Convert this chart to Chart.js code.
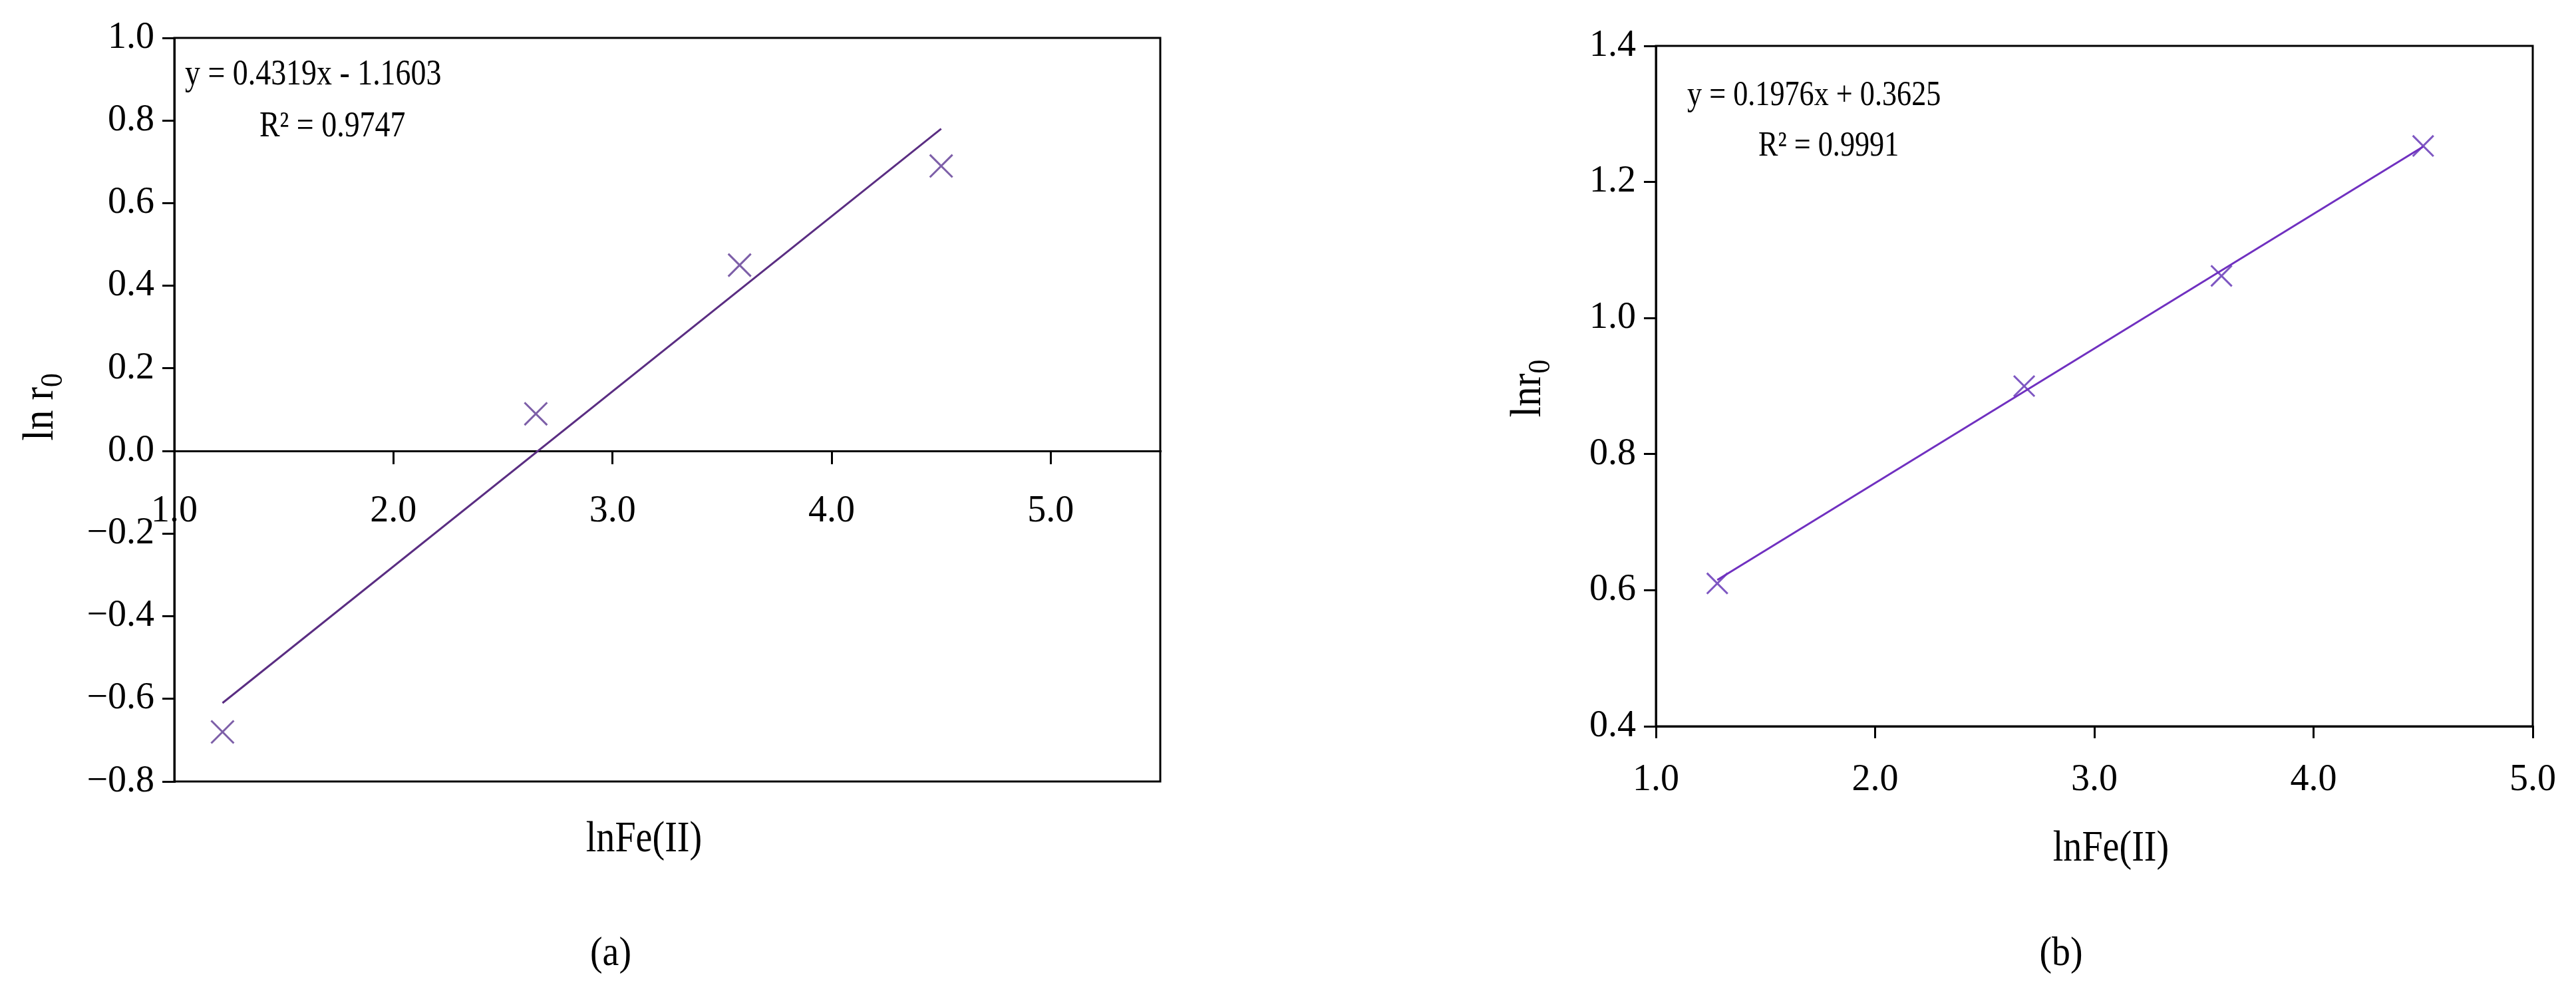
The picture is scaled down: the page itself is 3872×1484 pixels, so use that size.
<!DOCTYPE html>
<html><head><meta charset="utf-8">
<script src="https://cdn.jsdelivr.net/npm/chart.js@4/dist/chart.umd.min.js"></script>
<style>
html,body{margin:0;padding:0;background:#fff;width:3872px;height:1484px;overflow:hidden}
#wa{position:absolute;left:0;top:0;width:1936px;height:1484px}
#wb{position:absolute;left:1936px;top:0;width:1936px;height:1484px}
</style></head><body>
<div id="wa"><canvas id="ca"></canvas></div>
<div id="wb"><canvas id="cb"></canvas></div>
<script>
// Panel (a)
const aX = [1.22, 2.65, 3.58, 4.50];
const aY = [-0.68, 0.09, 0.45, 0.69];
const aFitX = [1.22, 4.50];
const aFitY = [-0.61, 0.78];
const aXTicks = [1, 2, 3, 4, 5];
// Panel (b)
const bX = [1.28, 2.68, 3.58, 4.50];
const bY = [0.61, 0.90, 1.062, 1.253];
const bFitX = [1.28, 4.50];
const bFitY = [0.615, 1.252];
const bXTicks = [1, 2, 3, 4, 5];

const SERIF = '"Liberation Serif", "DejaVu Serif", serif';
const toPts = (xs, ys) => xs.map((x, i) => ({x, y: ys[i]}));
const fmt = v => (v < 0 ? '\u2212' : '') + Math.abs(v).toFixed(1);

function sText(ctx, txt, x, y, font, align, sx) {
  ctx.save();
  ctx.font = font; ctx.fillStyle = '#000'; ctx.textBaseline = 'middle';
  ctx.translate(x, y); ctx.scale(sx || 0.85, 1);
  ctx.textAlign = align || 'left';
  ctx.fillText(txt, 0, 0);
  ctx.restore();
}

function boxPlugin(texts) {
  return {
    id: 'box',
    afterDraw(chart) {
      const {ctx, chartArea: a} = chart;
      ctx.save();
      ctx.strokeStyle = '#000'; ctx.lineWidth = 3;
      ctx.strokeRect(a.left, a.top, a.right - a.left, a.bottom - a.top);
      ctx.restore();
      texts(ctx, chart);
    }
  };
}

function yTitle(ctx, x, y, main, sub, size) {
  ctx.save();
  ctx.translate(x, y); ctx.rotate(-Math.PI / 2); ctx.scale(0.9, 1);
  ctx.fillStyle = '#000'; ctx.textBaseline = 'middle'; ctx.textAlign = 'left';
  ctx.font = size + 'px ' + SERIF;
  const w = ctx.measureText(main).width;
  const sw = ctx.measureText(sub).width * 0.7;
  const tot = w + sw;
  ctx.fillText(main, -tot / 2, 0);
  ctx.font = Math.round(size * 0.7) + 'px ' + SERIF;
  ctx.fillText(sub, -tot / 2 + w, size * 0.28);
  ctx.restore();
}

const tickFont = {family: SERIF, size: 56};

new Chart(document.getElementById('ca'), {
  type: 'scatter',
  data: {datasets: [
    {type: 'line', data: toPts(aFitX, aFitY), borderColor: '#5a2d82', borderWidth: 3, pointRadius: 0, fill: false},
    {data: toPts(aX, aY), pointStyle: 'cross', rotation: 45, pointRadius: 24, pointBorderWidth: 3, borderColor: '#7d5fa8', backgroundColor: '#7d5fa8'}
  ]},
  options: {
    responsive: true, maintainAspectRatio: false, animation: false,
    layout: {padding: {left: 0, right: 192, top: 57, bottom: 309}},
    plugins: {legend: {display: false}, tooltip: {enabled: false}},
    scales: {
      x: {type: 'linear', position: {y: 0}, min: 1, max: 5.5,
        afterBuildTicks: s => { s.ticks = aXTicks.map(v => ({value: v})); },
        ticks: {font: tickFont, color: '#000', padding: 40, maxRotation: 0, callback: v => v.toFixed(1)},
        grid: {drawOnChartArea: false, tickLength: 18, color: '#000', lineWidth: 3},
        border: {color: '#000', width: 3}},
      y: {min: -0.8, max: 1.0,
        afterFit: s => { s.width = 262; },
        ticks: {stepSize: 0.2, font: tickFont, color: '#000', padding: 12, callback: v => fmt(v)},
        grid: {drawOnChartArea: false, tickLength: 18, color: '#000', lineWidth: 3},
        border: {color: '#000', width: 3}}
    }
  },
  plugins: [boxPlugin((ctx) => {
    sText(ctx, 'y = 0.4319x - 1.1603', 278, 113, '54px ' + SERIF);
    sText(ctx, 'R\u00b2 = 0.9747', 390, 191, '54px ' + SERIF);
    sText(ctx, 'lnFe(II)', 968, 1263, '66px ' + SERIF, 'center');
    sText(ctx, '(a)', 918, 1435, '62px ' + SERIF, 'center', 0.9);
    yTitle(ctx, 62, 612, 'ln r', '0', 66);
  })]
});

new Chart(document.getElementById('cb'), {
  type: 'scatter',
  data: {datasets: [
    {type: 'line', data: toPts(bFitX, bFitY), borderColor: '#7030c0', borderWidth: 3, pointRadius: 0, fill: false},
    {data: toPts(bX, bY), pointStyle: 'cross', rotation: 45, pointRadius: 22, pointBorderWidth: 3, borderColor: '#7e57c2', backgroundColor: '#7e57c2'}
  ]},
  options: {
    responsive: true, maintainAspectRatio: false, animation: false,
    layout: {padding: {left: 0, right: 31, top: 69, bottom: 192}},
    plugins: {legend: {display: false}, tooltip: {enabled: false}},
    scales: {
      x: {type: 'linear', min: 1, max: 5,
        afterFit: s => { s.height = 200; },
        afterBuildTicks: s => { s.ticks = bXTicks.map(v => ({value: v})); },
        ticks: {font: tickFont, color: '#000', padding: 30, maxRotation: 0, callback: v => v.toFixed(1)},
        grid: {drawOnChartArea: false, tickLength: 18, color: '#000', lineWidth: 3},
        border: {color: '#000', width: 3}},
      y: {min: 0.4, max: 1.4,
        afterFit: s => { s.width = 553; },
        ticks: {stepSize: 0.2, font: tickFont, color: '#000', padding: 12, callback: v => v.toFixed(1)},
        grid: {drawOnChartArea: false, tickLength: 18, color: '#000', lineWidth: 3},
        border: {color: '#000', width: 3}}
    }
  },
  plugins: [boxPlugin((ctx) => {
    sText(ctx, 'y = 0.1976x + 0.3625', 600, 144, '52px ' + SERIF);
    sText(ctx, 'R\u00b2 = 0.9991', 707, 220, '52px ' + SERIF);
    sText(ctx, 'lnFe(II)', 1237, 1277, '66px ' + SERIF, 'center');
    ctx.save(); ctx.font = 'bold 62px ' + SERIF; ctx.restore();
    sText(ctx, '(b)', 1162, 1435, '62px ' + SERIF, 'center', 0.9);
    yTitle(ctx, 362, 584, 'lnr', '0', 66);
  })]
});
</script>
</body></html>
